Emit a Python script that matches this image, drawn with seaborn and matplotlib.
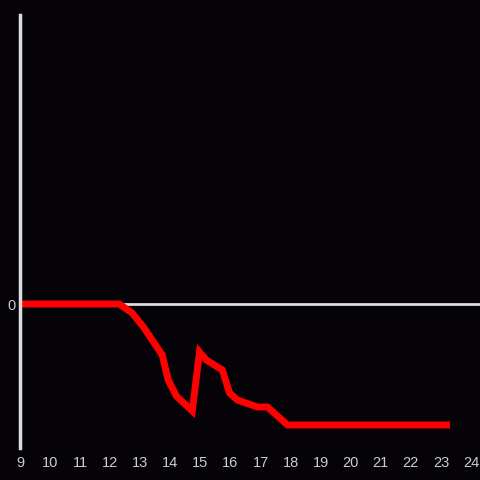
import numpy as np
import pandas as pd
import seaborn as sns
import matplotlib
matplotlib.use("Agg")
import matplotlib.pyplot as plt

# valeurs (heure, valeur)
heures = [9.0, 12.3, 12.73, 13.13, 13.73, 13.93, 14.2, 14.73, 14.97, 15.2,
          15.73, 15.97, 16.23, 16.9, 17.23, 17.9, 23.3]
valeurs = [0, 0, -9, -24, -51, -76, -92, -107, -48, -56,
           -66, -89, -96, -103, -103, -121, -121]
ticks_x = list(range(9, 25))

fond = "#050307"
gris = "#dcdcdc"

sns.set_style("dark")
plt.rcParams['font.family'] = ['Liberation Sans', 'DejaVu Sans']

df = pd.DataFrame({"heure": heures, "valeur": valeurs})

fig = plt.figure(figsize=(4.8, 4.8), dpi=100, facecolor=fond)
ax = fig.add_axes([20/480, 32/480, 460/480, 433/480])
ax.set_facecolor(fond)

ax.axhline(0, color=gris, lw=2, zorder=1)
sns.lineplot(data=df, x="heure", y="valeur", ax=ax, color="#ff0000",
             lw=5, zorder=2, solid_joinstyle="miter", solid_capstyle="butt")

ax.set_xlim(9, 24.3)
ax.set_ylim(-144, 289)
ax.set_xticks(ticks_x)
ax.set_yticks([0])
ax.set_xlabel("")
ax.set_ylabel("")
ax.grid(False)
ax.tick_params(colors="#cccccc", labelsize=10.5, length=0)
ax.tick_params(axis="x", pad=6)
ax.tick_params(axis="y", pad=3)
for s in ["top", "right", "bottom"]:
    ax.spines[s].set_visible(False)
ax.spines["left"].set_color(gris)
ax.spines["left"].set_linewidth(2.5)

fig.savefig("out.png", dpi=100, facecolor=fond)
